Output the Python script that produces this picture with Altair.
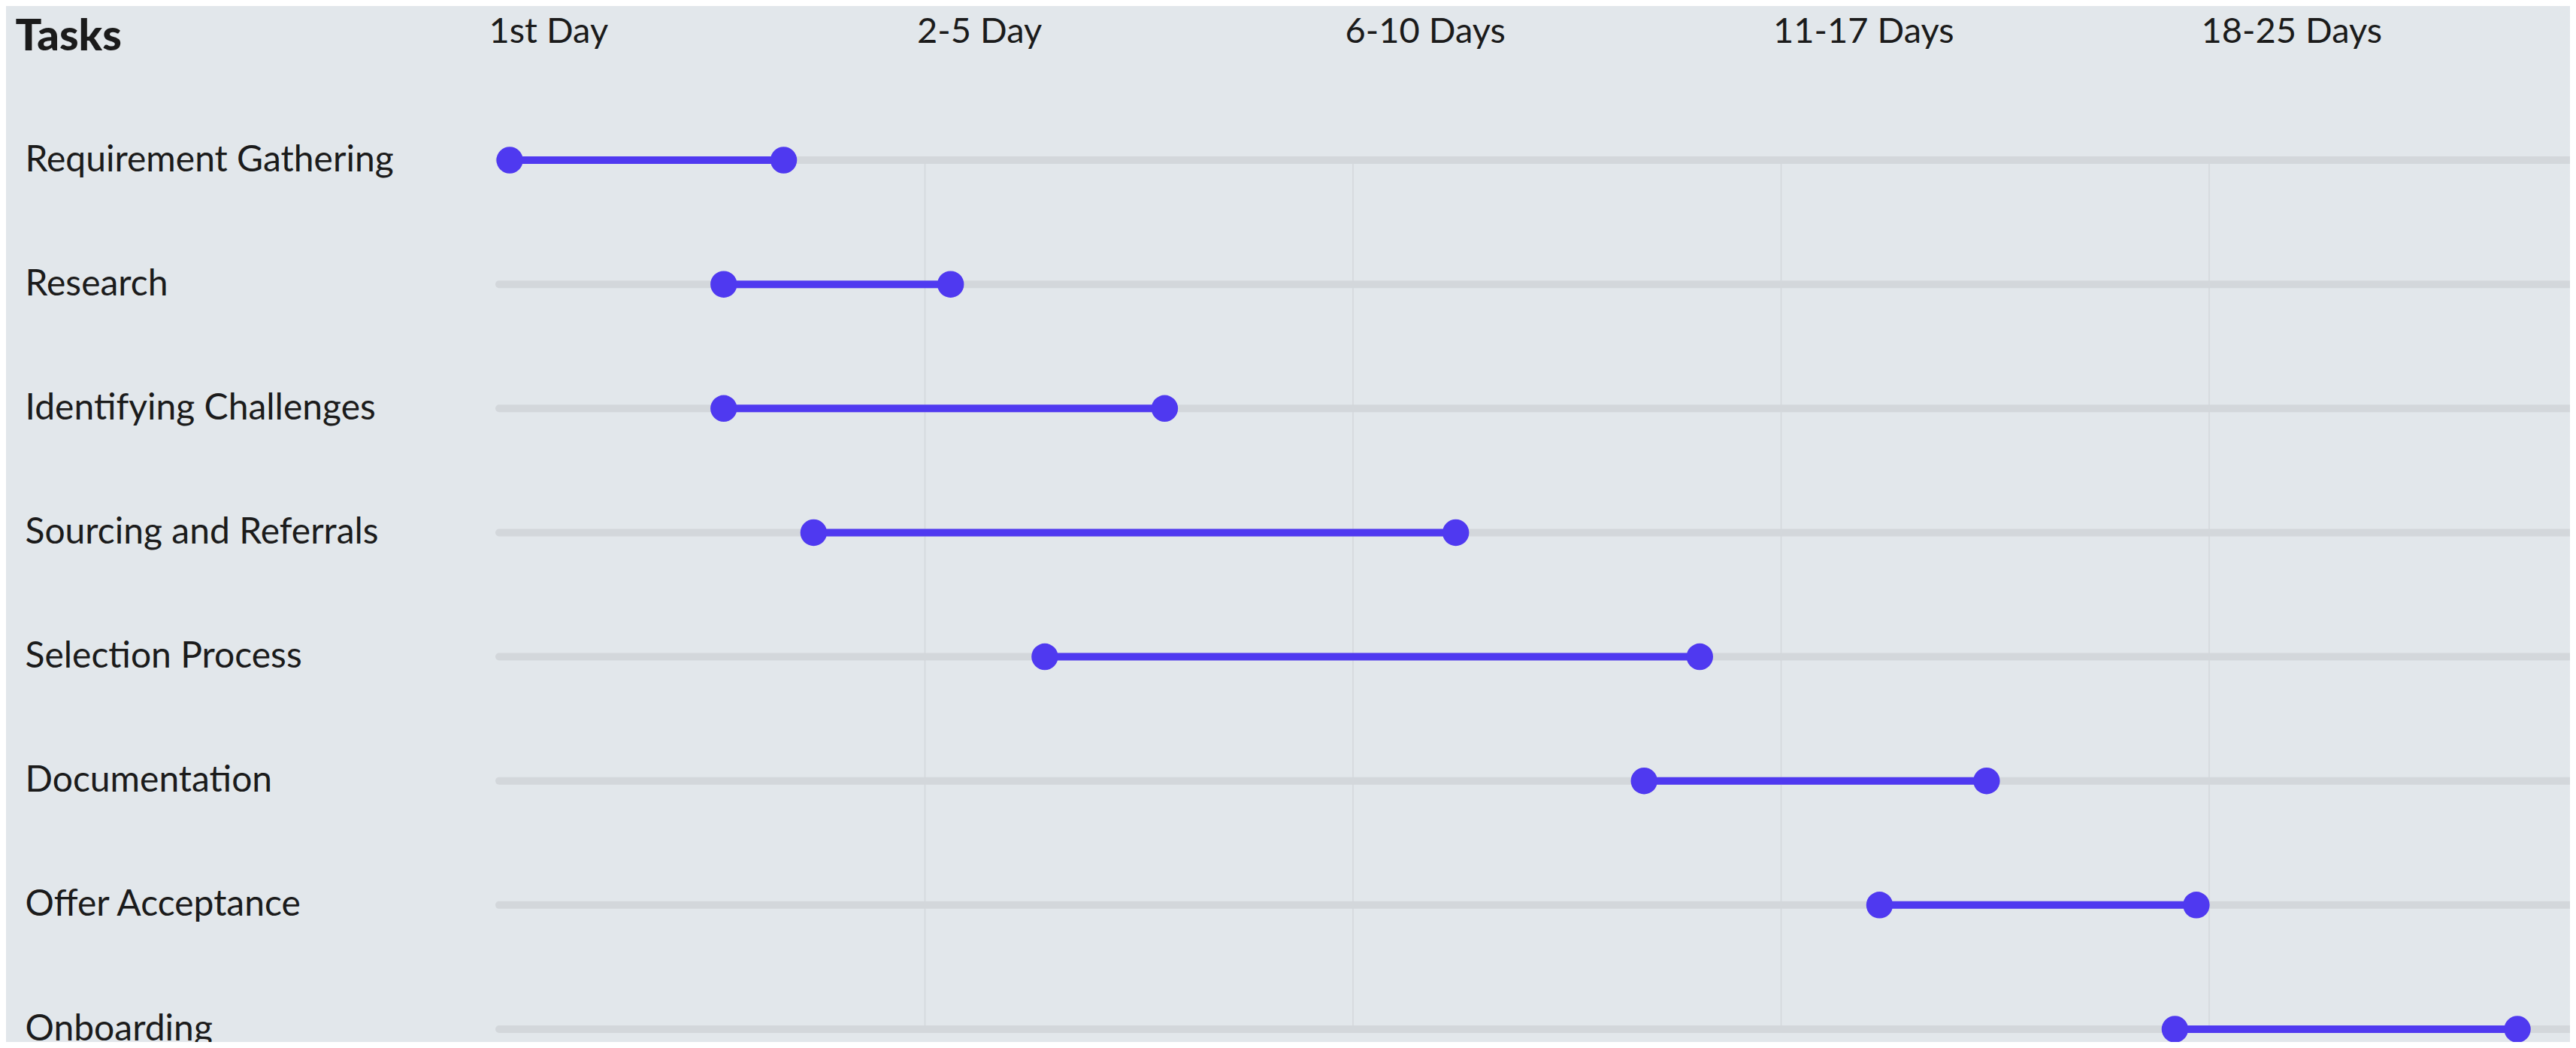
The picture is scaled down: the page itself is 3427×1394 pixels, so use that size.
import altair as alt
import pandas as pd

# ---- data ----
tasks = [
    "Requirement Gathering",
    "Research",
    "Identifying Challenges",
    "Sourcing and Referrals",
    "Selection Process",
    "Documentation",
    "Offer Acceptance",
    "Onboarding",
]
start = [0.03, 0.53, 0.53, 0.74, 1.28, 2.68, 3.23, 3.92]
end = [0.67, 1.06, 1.56, 2.24, 2.81, 3.48, 3.97, 4.72]
tick_labels = ["1st Day", "2-5 Day", "6-10 Days", "11-17 Days", "18-25 Days"]

df = pd.DataFrame({"task": tasks, "start": start, "end": end})
tick_values = list(range(len(tick_labels)))
grid_df = pd.DataFrame({"tick": tick_values[1:]})

# ---- layout ----
W, H = 2758, 1156
PAD = {"left": 653, "top": 205, "right": 0, "bottom": 17}
BG = "#e2e7eb"
TRACK = "#d3d7db"
PURPLE = "#4f39f0"
TEXT = "#1b1b1b"
FONT = "Lato"

label_expr = "[" + ",".join("'%s'" % t for t in tick_labels) + "][datum.value]"

xscale = alt.Scale(domain=[0, 5], range=[0, 2847.5], nice=False, zero=False)
yscale = alt.Scale(type="point", domain=tasks, range=[0, H], padding=0)

x_axis = alt.Axis(
    orient="top", values=tick_values, labelExpr=label_expr, title=None,
    labelAlign="left", labelOffset=-11, labelPadding=157, labelBaseline="alphabetic",
    labelFont=FONT, labelFontSize=47, labelColor=TEXT, labelFlush=False,
    labelOverlap=False, labelLimit=0, domain=False, ticks=False, tickSize=0, grid=False,
)
y_axis = alt.Axis(
    title="Tasks", titleAngle=0, titleAlign="left", titleBaseline="alphabetic",
    titleX=-641, titleY=-147, titleFont=FONT, titleFontSize=58, titleFontWeight=900,
    titleColor=TEXT, labelAlign="left", labelPadding=628, labelBaseline="middle",
    labelFont=FONT, labelFontSize=48, labelColor=TEXT, labelLimit=0,
    domain=False, ticks=False, tickSize=0, grid=False,
)

grid = alt.Chart(grid_df).mark_rule(color=TRACK, strokeWidth=1.5).encode(
    x=alt.X("tick:Q", scale=xscale, axis=x_axis),
    y=alt.value(0),
    y2=alt.value(H),
)

tracks = alt.Chart(df).mark_rule(color=TRACK, strokeWidth=10, strokeCap="round").encode(
    y=alt.Y("task:N", scale=yscale, axis=y_axis, sort=tasks),
    x=alt.value(3),
    x2=alt.value(3000),
)

ranges = alt.Chart(df).mark_rule(color=PURPLE, strokeWidth=10).encode(
    y=alt.Y("task:N", scale=yscale, axis=y_axis, sort=tasks),
    x=alt.X("start:Q", scale=xscale, axis=x_axis),
    x2="end:Q",
)

points = alt.Chart(df).transform_fold(
    ["start", "end"], as_=["kind", "day"]
).mark_circle(color=PURPLE, size=1257, opacity=1).encode(
    y=alt.Y("task:N", scale=yscale, axis=y_axis, sort=tasks),
    x=alt.X("day:Q", scale=xscale, axis=x_axis),
)

chart = alt.layer(grid, tracks, ranges, points).properties(
    width=W,
    height=H,
    padding=PAD,
    autosize=alt.AutoSizeParams(type="none"),
    background=BG,
).configure_view(strokeWidth=0)

chart.save("out.html", embed_options={"renderer": "svg", "actions": False})
